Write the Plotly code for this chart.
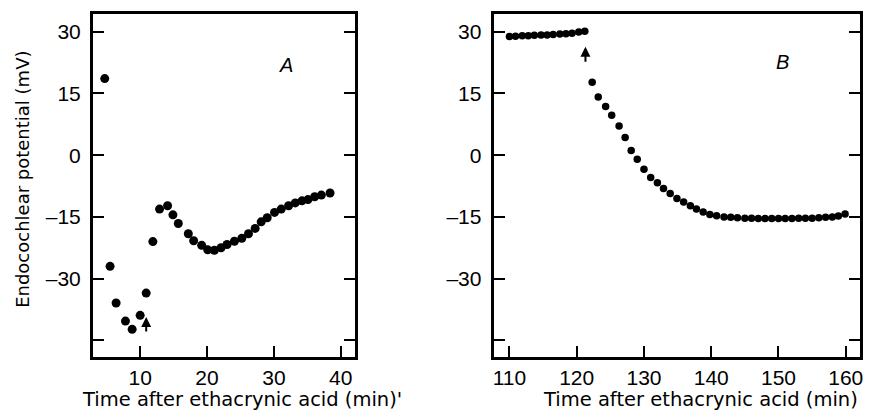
import plotly.graph_objects as go

# ---------------- data ----------------
a_time = [4.7, 5.5, 6.4, 7.8, 8.8, 10.0, 10.9, 11.9, 12.9, 14.1, 14.9, 15.7,
          17.2, 18.0, 19.2, 20.1, 21.1, 22.1, 23.0, 24.1, 25.2, 26.2, 27.2,
          28.1, 29.0, 30.1, 31.1, 32.2, 33.2, 34.2, 35.1, 36.1, 37.1, 38.4]
a_ep = [18.6, -27.0, -35.9, -40.3, -42.3, -38.9, -33.5, -21.0, -13.1, -12.3,
        -14.5, -16.6, -19.1, -20.8, -21.9, -23.0, -23.1, -22.5, -21.7, -20.9,
        -20.2, -19.1, -17.8, -16.2, -15.2, -13.9, -13.1, -12.3, -11.6, -11.1,
        -10.8, -10.1, -9.7, -9.2]

b_time = [110.0, 110.9, 111.9, 112.8, 113.7, 114.7, 115.6, 116.5, 117.5,
          118.4, 119.3, 120.3, 121.2,
          122.3, 123.2, 124.3, 125.2, 126.3, 127.2, 128.1, 129.0, 130.0,
          131.0, 132.0, 132.9, 133.9, 134.9, 135.9, 136.9, 137.8, 138.8,
          139.8, 140.8, 141.9, 142.9, 143.9, 145.0, 146.0, 147.0, 148.0,
          149.0, 150.0, 151.0, 152.0, 153.0, 154.0, 155.0, 156.0, 157.0,
          158.0, 158.9, 159.9]
b_ep = [28.8, 28.9, 29.0, 29.0, 29.1, 29.2, 29.2, 29.3, 29.4, 29.5, 29.6,
        29.9, 30.1,
        17.7, 14.1, 11.8, 9.7, 7.1, 4.3, 1.1, -1.0, -3.4, -5.4, -6.7, -8.1,
        -9.3, -10.5, -11.4, -12.3, -13.1, -13.8, -14.4, -14.7, -15.0, -15.1,
        -15.2, -15.3, -15.3, -15.4, -15.4, -15.4, -15.4, -15.4, -15.4,
        -15.3, -15.3, -15.3, -15.2, -15.1, -15.0, -14.8, -14.3]

# arrows marking the injection (time, tail mV, head mV)
a_arrow = [10.9, -43.2, -39.3]
b_arrow = [121.3, 22.3, 26.3]

y_ticks = [30, 15, 0, -15, -30, -45]
y_tick_text = ["30", "15", "0", "\u201315", "\u201330", ""]
a_x_ticks = [10, 20, 30, 40]
b_x_ticks = [110, 120, 130, 140, 150, 160]

x_title_a = "Time after ethacrynic acid (min)'"
x_title_b = "Time after ethacrynic acid (min)"
y_title = "Endocochlear potential (mV)"

# ---------------- figure ----------------
W, H = 869, 412
TICKFONT = dict(family="Liberation Sans, Arial, sans-serif", size=21, color="black")
XTITLEFONT = dict(family="DejaVu Sans, sans-serif", size=19.5, color="black")
YTITLEFONT = dict(family="DejaVu Sans, sans-serif", size=18, color="black")
LETTERFONT = dict(family="Liberation Sans, Arial, sans-serif", size=20, color="black")

fig = go.Figure()
fig.add_trace(go.Scatter(x=a_time, y=a_ep, mode="markers",
                         marker=dict(size=9, color="black"),
                         xaxis="x", yaxis="y", showlegend=False))
fig.add_trace(go.Scatter(x=b_time, y=b_ep, mode="markers",
                         marker=dict(size=7.5, color="black"),
                         xaxis="x2", yaxis="y2", showlegend=False))

ydom = [1 - 356.5 / H, 1 - 13.5 / H]
common_axis = dict(showline=True, linewidth=3, linecolor="black", mirror=True,
                   ticks="inside", ticklen=11, tickwidth=2, tickcolor="black",
                   showgrid=False, zeroline=False, tickfont=TICKFONT,
                   fixedrange=True)

fig.update_layout(
    width=W, height=H,
    margin=dict(l=0, r=0, t=0, b=0),
    paper_bgcolor="white", plot_bgcolor="white",
    xaxis=dict(domain=[92.5 / W, 356.5 / W], range=[2.94, 42.2],
               tickvals=a_x_ticks, ticklabelstandoff=0, anchor="y",
               **common_axis),
    yaxis=dict(domain=ydom, range=[-48.9, 34.4], tickvals=y_ticks,
               ticktext=y_tick_text, anchor="x", ticklabelstandoff=5,
               **{**common_axis, "mirror": "ticks"}),
    xaxis2=dict(domain=[495.5 / W, 863.5 / W], range=[107.65, 162.05],
                tickvals=b_x_ticks, ticklabelstandoff=0, anchor="y2",
                **common_axis),
    yaxis2=dict(domain=ydom, range=[-48.9, 34.4], tickvals=y_ticks,
                ticktext=y_tick_text, anchor="x2", ticklabelstandoff=5,
                **{**common_axis, "mirror": "ticks"}),
)

annotations = [
    dict(text=y_title, xref="paper", yref="paper", x=22 / W, y=1 - 179 / H,
         textangle=-90, showarrow=False, font=YTITLEFONT,
         xanchor="center", yanchor="middle"),
    dict(text=x_title_a, xref="paper", yref="paper", x=242 / W, y=1 - 399.5 / H,
         showarrow=False, font=XTITLEFONT, xanchor="center", yanchor="middle"),
    dict(text=x_title_b, xref="paper", yref="paper", x=704 / W, y=1 - 399.5 / H,
         showarrow=False, font=XTITLEFONT, xanchor="center", yanchor="middle"),
    dict(text="<i>A</i>", xref="x", yref="y", x=31.8, y=21.8, showarrow=False,
         font=LETTERFONT),
    dict(text="<i>B</i>", xref="x2", yref="y2", x=150.6, y=22.6,
         showarrow=False, font=LETTERFONT),
    dict(text="", xref="x", yref="y", x=a_arrow[0], y=a_arrow[2],
         axref="x", ayref="y", ax=a_arrow[0], ay=a_arrow[1],
         showarrow=True, arrowhead=2, arrowsize=1, arrowwidth=2,
         arrowcolor="black"),
    dict(text="", xref="x2", yref="y2", x=b_arrow[0], y=b_arrow[2],
         axref="x2", ayref="y2", ax=b_arrow[0], ay=b_arrow[1],
         showarrow=True, arrowhead=2, arrowsize=1, arrowwidth=2,
         arrowcolor="black"),
]
fig.update_layout(annotations=annotations)

fig.write_html(
    "out.html",
    config={"displayModeBar": False, "staticPlot": True},
    post_script="document.body.style.margin='0';document.body.style.overflow='hidden';",
)
